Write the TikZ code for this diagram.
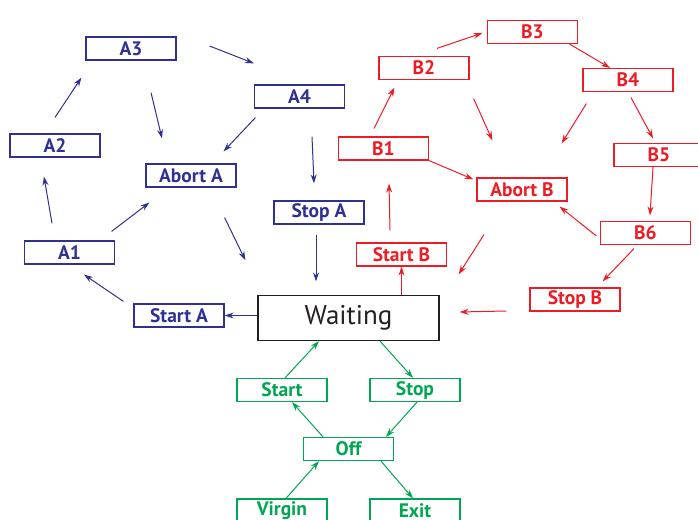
\documentclass[tikz,border=0pt]{standalone}
\usepackage{fontspec}
\setmainfont{PT Sans}
\usepackage{xcolor}
\usetikzlibrary{arrows.meta}
\definecolor{blueA}{RGB}{46,49,146}
\definecolor{redB}{RGB}{237,28,36}
\definecolor{greenG}{RGB}{0,166,81}
\definecolor{inkW}{RGB}{35,31,32}

\begin{document}
\begin{tikzpicture}[x=1pt,y=1pt,
  box/.style={draw,line width=1.2pt,minimum width=90pt,minimum height=23pt,inner sep=0pt,
    font=\bfseries\fontsize{19.5}{19.5}\selectfont},
  boxA/.style={box,draw=blueA,text=blueA},
  boxB/.style={box,draw=redB,text=redB},
  boxG/.style={box,draw=greenG,text=greenG},
  arr/.style={line width=1pt,-{Stealth[length=9pt,width=6pt,inset=3pt]}},
  arrA/.style={arr,blueA},
  arrB/.style={arr,redB},
  arrG/.style={arr,greenG}]
\useasboundingbox (0,0) rectangle (698,519);
\clip (0,0) rectangle (698,519);
% waiting state
\node[draw=inkW,line width=1.3pt,minimum width=181pt,minimum height=45pt,inner sep=0pt,
  text=inkW,font=\fontsize{27}{27}\selectfont] (Waiting) at (348.5,201) {Waiting};
% states of A
\foreach \n/\x/\y/\t in {A1/69.5/266.5/A1, A2/55/373.5/A2, A3/131/470.5/A3, A4/299.5/422.5/A4,
  AbortA/191/343.5/Abort A, StopA/319/306.5/Stop A, StartA/179/203.5/Start A}
  \node[boxA] (\n) at (\x,\y) {\t};
% states of B
\foreach \n/\x/\y/\t in {B1/383.5/370.5/B1, B2/424/451/B2, B3/532.5/487/B3, B4/628/439/B4,
  B5/659/364/B5, B6/645.5/286/B6, AbortB/522/329.5/Abort B, StartB/401.5/264.5/Start B,
  StopB/575/219.5/Stop B}
  \node[boxB] (\n) at (\x,\y) {\t};
% start and stop
\foreach \n/\x/\y/\t in {Start/282/129/Start, Stop/415/129/Stop, Off/348.5/70/Off,
  Virgin/282/8.5/Virgin, Exit/415/8.5/Exit}
  \node[boxG] (\n) at (\x,\y) {\t};

% transitions of A
\draw[arrA] ([shift={(33,2.5)}]A3.east) -- ([shift={(0,21)}]A4.north west);
\draw[arrA] ([shift={(20,-32)}]A3.south) -- ([shift={(-29,25)}]AbortA.north);
\draw[arrA] ([shift={(0,16)}]A2.north) -- ([shift={(-4,-17)}]A3.south west);
\draw[arrA] ([shift={(1.5,-9)}]A4.south west) -- ([shift={(-13,12)}]AbortA.north east);
\draw[arrA] ([shift={(12.5,-28)}]A4.south) -- ([shift={(-5,17)}]StopA.north);
\draw[arrA] ([shift={(-17.5,17)}]A1.north) -- ([shift={(-11,-19)}]A2.south);
\draw[arrA] ([shift={(-3.5,9)}]A1.north east) -- ([shift={(4,-15)}]AbortA.south west);
\draw[arrA] ([shift={(-12,-30)}]AbortA.south east) -- ([shift={(-12,34.5)}]Waiting.north west);
\draw[arrA] ([shift={(-3,-10)}]StopA.south) -- ([shift={(-32.5,13.5)}]Waiting.north);
\draw[arrA] ([shift={(-10,2)}]StartA.north west) -- ([shift={(14.5,-10)}]A1.south);
\draw[arrA] (StartA.east -| Waiting.west) -- (StartA.east);

% transitions of B
\draw[arrB] ([shift={(13,7.5)}]B2.north) -- ([shift={(-4.5,-1)}]B3.west);
\draw[arrB] ([xshift=-8.5]B3.south east) -- ([xshift=-18]B4.north);
\draw[arrB] ([shift={(-9.5,8)}]B1.north) -- ([shift={(16,-7.5)}]B2.south west);
\draw[arrB] ([shift={(4,-18.5)}]B2.south east) -- ([shift={(16,37)}]AbortB.north west);
\draw[arrB] ([shift={(4,-11.5)}]B4.south west) -- ([shift={(-6,34)}]AbortB.north east);
\draw[arrB] ([shift={(3,-5.5)}]B4.south) -- ([shift={(-6,4.5)}]B5.north);
\draw[arrB] (B1.south east) -- ([shift={(-3,-2)}]AbortB.north west);
\draw[arrB] ([xshift=-6]B5.south) -- ([shift={(4.5,5.5)}]B6.north);
\draw[arrB] ([shift={(-3.5,-3)}]B6.west) -- ([shift={(-8,-5)}]AbortB.south east);
\draw[arrB] ([shift={(-38,-33)}]AbortB.south) -- ([shift={(19,20.5)}]Waiting.north east);
\draw[arrB] ([shift={(-11.5,12)}]StartB.north) -- ([shift={(5.5,-23)}]B1.south);
\draw[arrB] ([shift={(-11.5,-3.5)}]B6.south) -- ([shift={(-18,6)}]StopB.north east);
\draw[arrB] ([shift={(-23,-11.5)}]StopB.west) -- ([shift={(20,6)}]Waiting.east);
\draw[arrB] (StartB.south |- Waiting.north) -- (StartB.south);

% transitions of start and stop
\draw[arrG] ([xshift=3]Start.north) -- ([xshift=-29.5]Waiting.south);
\draw[arrG] ([xshift=31.5]Waiting.south) -- ([xshift=-2]Stop.north);
\draw[arrG] ([xshift=-25.5]Off.north) -- ([xshift=10]Start.south);
\draw[arrG] ([xshift=2]Stop.south) -- ([xshift=37.5]Off.north);
\draw[arrG] ([xshift=4]Virgin.north) -- ([xshift=-29.5]Off.south);
\draw[arrG] ([xshift=32.5]Off.south) -- ([xshift=-2]Exit.north);
\end{tikzpicture}
\end{document}
